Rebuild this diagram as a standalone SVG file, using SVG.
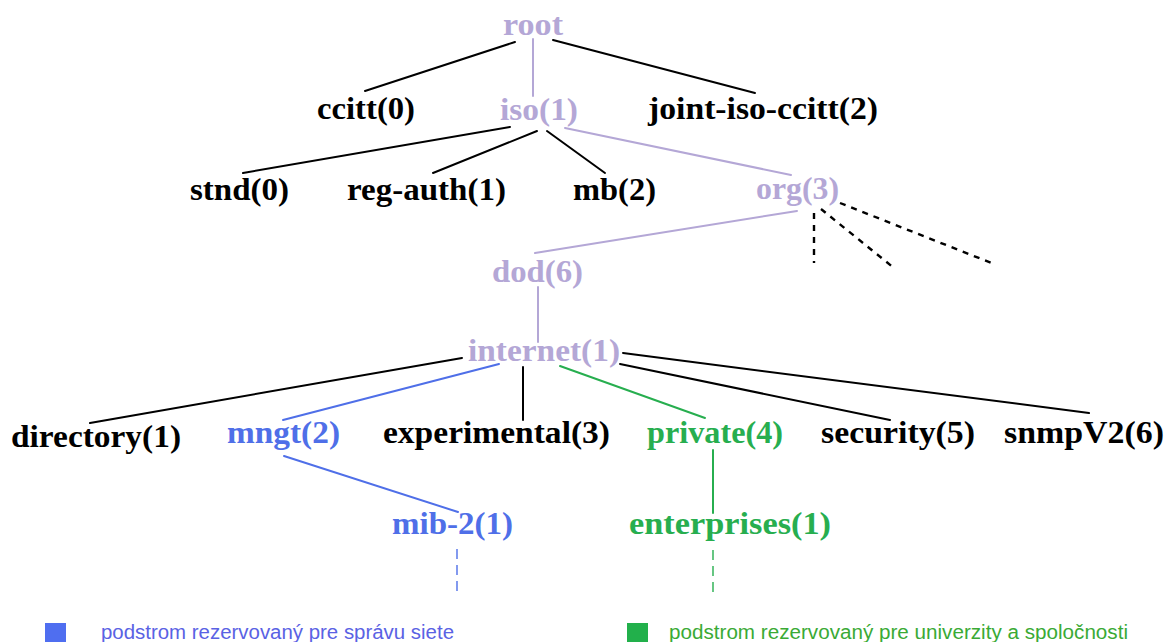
<svg xmlns="http://www.w3.org/2000/svg" width="1173" height="642" viewBox="0 0 1173 642">
  <style>
    .lbl { font-family: "Liberation Serif", "Times New Roman", serif; font-weight: bold; font-size: 32px; }
    .k { fill: #000000; }
    .lav { fill: #b4a7d6; }
    .blu { fill: #4f6fe8; }
    .grn { fill: #27ae4f; }
    .edge { fill: none; stroke-width: 2; stroke-linecap: round; }
    .ek { stroke: #000000; }
    .elav { stroke: #b4a7d6; }
    .eblu { stroke: #4f6fe8; }
    .egrn { stroke: #27ae4f; }
    .more { fill: none; stroke: #000000; stroke-width: 2.4; stroke-dasharray: 6 6; }
    .cont { fill: none; stroke-width: 1.4; stroke-dasharray: 10 6; }
    .leg { font-family: "Liberation Sans", Arial, sans-serif; font-size: 19.5px; }
  </style>
  <rect width="1173" height="642" fill="#ffffff"/>

  <!-- tree edges -->
  <g id="connectors">
    <!-- main path root → internet -->
    <path class="edge elav" d="M533 39 V96"/>
    <path class="edge elav" d="M565 128 L791 175"/>
    <path class="edge elav" d="M797 211 L535 253"/>
    <path class="edge elav" d="M538 287 V342"/>
    <!-- other branches -->
    <path class="edge ek" d="M515 42 L365 91"/>
    <path class="edge ek" d="M553 40 L755 93"/>
    <path class="edge ek" d="M510 127 L243 173"/>
    <path class="edge ek" d="M537 131 L433 173"/>
    <path class="edge ek" d="M547 131 L605 173"/>
    <path class="edge ek" d="M462 358 L90 423"/>
    <path class="edge ek" d="M523 367 V420"/>
    <path class="edge ek" d="M620 364 L890 420"/>
    <path class="edge ek" d="M623 353 L1089 413"/>
    <!-- management subtree -->
    <path class="edge eblu" d="M499 364 L283 420"/>
    <path class="edge eblu" d="M284 456 L458 512"/>
    <path class="cont eblu" d="M457 549 V593"/>
    <!-- private subtree -->
    <path class="edge egrn" d="M560 366 L705 418"/>
    <path class="edge egrn" d="M713 450 V513"/>
    <path class="cont egrn" d="M713 550 V594"/>
    <!-- further org(3) branches -->
    <path class="more" d="M814 213 V263"/>
    <path class="more" d="M821 209 L894 268"/>
    <path class="more" d="M840 203 L994 264"/>
  </g>

  <!-- nodes -->
  <g id="root"><text class="lbl lav" x="503" y="35" textLength="60" lengthAdjust="spacingAndGlyphs">root</text></g>
  <g id="ccitt"><text class="lbl k" x="317" y="119" textLength="98" lengthAdjust="spacingAndGlyphs">ccitt(0)</text></g>
  <g id="iso"><text class="lbl lav" x="500" y="120" textLength="78" lengthAdjust="spacingAndGlyphs">iso(1)</text></g>
  <g id="joint-iso-ccitt"><text class="lbl k" x="648" y="119" textLength="230" lengthAdjust="spacingAndGlyphs">joint-iso-ccitt(2)</text></g>

  <g id="stnd"><text class="lbl k" x="190" y="200" textLength="99" lengthAdjust="spacingAndGlyphs">stnd(0)</text></g>
  <g id="reg-auth"><text class="lbl k" x="347" y="200" textLength="159" lengthAdjust="spacingAndGlyphs">reg-auth(1)</text></g>
  <g id="mb"><text class="lbl k" x="573" y="200" textLength="83" lengthAdjust="spacingAndGlyphs">mb(2)</text></g>
  <g id="org"><text class="lbl lav" x="756" y="199" textLength="83" lengthAdjust="spacingAndGlyphs">org(3)</text></g>

  <g id="dod"><text class="lbl lav" x="492" y="282" textLength="91" lengthAdjust="spacingAndGlyphs">dod(6)</text></g>
  <g id="internet"><text class="lbl lav" x="468" y="361" textLength="152" lengthAdjust="spacingAndGlyphs">internet(1)</text></g>

  <g id="directory"><text class="lbl k" x="11" y="447" textLength="170" lengthAdjust="spacingAndGlyphs">directory(1)</text></g>
  <g id="mngt"><text class="lbl blu" x="227" y="443" textLength="113" lengthAdjust="spacingAndGlyphs">mngt(2)</text></g>
  <g id="experimental"><text class="lbl k" x="383" y="443" textLength="227" lengthAdjust="spacingAndGlyphs">experimental(3)</text></g>
  <g id="private"><text class="lbl grn" x="647" y="443" textLength="136" lengthAdjust="spacingAndGlyphs">private(4)</text></g>
  <g id="security"><text class="lbl k" x="821" y="443" textLength="154" lengthAdjust="spacingAndGlyphs">security(5)</text></g>
  <g id="snmpV2"><text class="lbl k" x="1004" y="443" textLength="160" lengthAdjust="spacingAndGlyphs">snmpV2(6)</text></g>

  <g id="mib-2"><text class="lbl blu" x="392" y="534" textLength="121" lengthAdjust="spacingAndGlyphs">mib-2(1)</text></g>
  <g id="enterprises"><text class="lbl grn" x="629" y="534" textLength="202" lengthAdjust="spacingAndGlyphs">enterprises(1)</text></g>

  <!-- legend -->
  <g id="legend-mgmt">
    <rect x="45" y="623" width="21" height="21" fill="#4f6ef0"/>
    <text class="leg" x="101" y="639" fill="#5a62e4" textLength="353" lengthAdjust="spacingAndGlyphs">podstrom rezervovaný pre správu siete</text>
  </g>
  <g id="legend-private">
    <rect x="627" y="623" width="21" height="21" fill="#22b04b"/>
    <text class="leg" x="669" y="639" fill="#3aaa35" textLength="459" lengthAdjust="spacingAndGlyphs">podstrom rezervovaný pre univerzity a spoločnosti</text>
  </g>
</svg>
